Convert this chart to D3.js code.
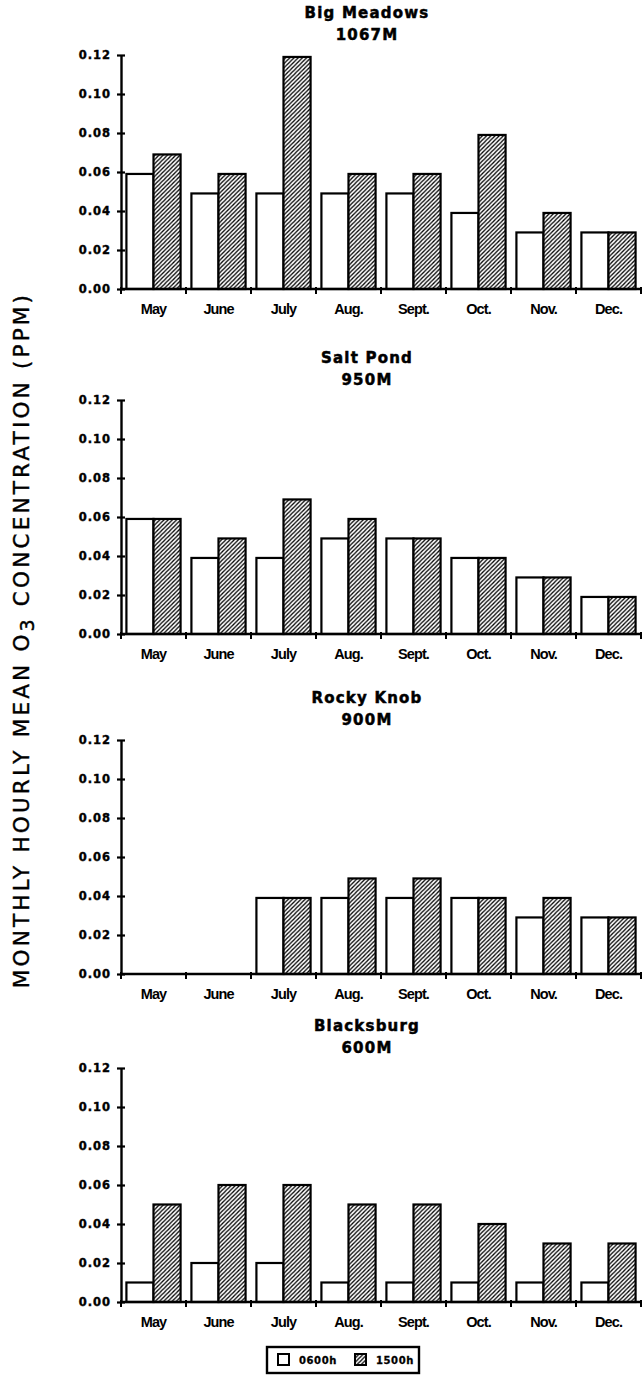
<!DOCTYPE html>
<html>
<head>
<meta charset="utf-8">
<script src="https://cdn.jsdelivr.net/npm/d3@7"></script>
<style>
  body { margin: 0; background: #fff; }
</style>
</head>
<body>
<div id="chart"></div>
<script>
const months = ['May', 'June', 'July', 'Aug.', 'Sept.', 'Oct.', 'Nov.', 'Dec.']
const series = ['0600h', '1500h']
const siteNames = ['Big Meadows', 'Salt Pond', 'Rocky Knob', 'Blacksburg']
const elevations = ['1067M', '950M', '900M', '600M']
const yTicks = [0, 0.02, 0.04, 0.06, 0.08, 0.10, 0.12]

// null = no measurement that month
const bigMeadows0600 = [0.059, 0.049, 0.049, 0.049, 0.049, 0.039, 0.029, 0.029]
const bigMeadows1500 = [0.069, 0.059, 0.119, 0.059, 0.059, 0.079, 0.039, 0.029]
const saltPond0600 = [0.059, 0.039, 0.039, 0.049, 0.049, 0.039, 0.029, 0.019]
const saltPond1500 = [0.059, 0.049, 0.069, 0.059, 0.049, 0.039, 0.029, 0.019]
const rockyKnob0600 = [null, null, 0.039, 0.039, 0.039, 0.039, 0.029, 0.029]
const rockyKnob1500 = [null, null, 0.039, 0.049, 0.049, 0.039, 0.039, 0.029]
const blacksburg0600 = [0.01, 0.02, 0.02, 0.01, 0.01, 0.01, 0.01, 0.01]
const blacksburg1500 = [0.05, 0.06, 0.06, 0.05, 0.05, 0.04, 0.03, 0.03]

const panels = [
  [bigMeadows0600, bigMeadows1500],
  [saltPond0600, saltPond1500],
  [rockyKnob0600, rockyKnob1500],
  [blacksburg0600, blacksburg1500]
]

const width = 644
const height = 1382
const axisLeftX = 121
const axisRightX = 641
const plotHeight = 234
// y position of the 0.12 line for each panel
const panelTops = [55, 400, 740, 1068]

const heavy = '"DejaVu Sans", sans-serif'
const plain = '"Liberation Sans", Arial, sans-serif'

const svg = d3
  .select('#chart')
  .append('svg')
  .attr('width', width)
  .attr('height', height)
  .style('display', 'block')

// diagonal hatching for the 1500h bars
const defs = svg.append('defs')
const hatch = defs
  .append('pattern')
  .attr('id', 'hatch')
  .attr('patternUnits', 'userSpaceOnUse')
  .attr('width', 4.2)
  .attr('height', 4.2)
hatch.append('rect').attr('width', 4.2).attr('height', 4.2).attr('fill', '#fff')
hatch
  .append('path')
  .attr('d', 'M-1,1 L1,-1 M0,4.2 L4.2,0 M3.2,5.2 L5.2,3.2')
  .attr('stroke', '#000')
  .attr('stroke-width', 1.3)

const xPositionScale = d3
  .scaleBand()
  .domain(months)
  .range([axisLeftX, axisRightX])

const seriesScale = d3
  .scaleBand()
  .domain(series)
  .range([0, xPositionScale.bandwidth()])
  .paddingOuter(0.2)

const fills = { '0600h': '#fff', '1500h': 'url(#hatch)' }

panels.forEach((values, i) => {
  const top = panelTops[i]
  const yPositionScale = d3
    .scaleLinear()
    .domain([0, 0.12])
    .range([top + plotHeight, top])
  const base = yPositionScale(0)

  const g = svg.append('g').attr('class', 'panel')

  // title
  const title = g
    .append('text')
    .attr('x', 367)
    .attr('y', top - 37)
    .attr('text-anchor', 'middle')
    .attr('font-family', heavy)
    .attr('font-weight', 'bold')
    .attr('font-size', 15)
    .attr('letter-spacing', 1.2)
    .attr('stroke', '#000')
    .attr('stroke-width', 0.5)
  title.append('tspan').attr('x', 367).text(siteNames[i])
  title.append('tspan').attr('x', 367).attr('dy', 22).text(elevations[i])

  // bars
  const rows = months.map((m, j) => ({
    month: m,
    values: series.map((s, k) => ({ month: m, key: s, value: values[k][j] }))
  }))

  g.selectAll('.month')
    .data(rows)
    .enter()
    .append('g')
    .attr('class', 'month')
    .attr('transform', d => 'translate(' + xPositionScale(d.month) + ',0)')
    .selectAll('rect')
    .data(d => d.values.filter(v => v.value !== null))
    .enter()
    .append('rect')
    .attr('x', d => seriesScale(d.key))
    .attr('width', seriesScale.bandwidth())
    .attr('y', d => yPositionScale(d.value))
    .attr('height', d => base - yPositionScale(d.value))
    .attr('fill', d => fills[d.key])
    .attr('stroke', '#000')
    .attr('stroke-width', 2.2)

  // y axis with ticks crossing the line
  const yAxis = d3
    .axisLeft(yPositionScale)
    .tickValues(yTicks)
    .tickFormat(d3.format('.2f'))
    .tickSizeInner(4)
    .tickSizeOuter(0)
    .tickPadding(6)

  const yg = g.append('g').attr('transform', 'translate(' + axisLeftX + ',0)').call(yAxis)
  yg.select('.domain').attr('stroke-width', 2.4)
  yg.selectAll('.tick line').attr('x1', 4).attr('stroke-width', 2.2)
  yg.selectAll('.tick text')
    .attr('font-family', heavy)
    .attr('font-weight', 'bold')
    .attr('font-size', 11.5)
    .attr('letter-spacing', 1)
    .attr('fill', '#000')
    .attr('stroke', '#000')
    .attr('stroke-width', 0.4)

  // x axis: baseline plus tick marks at month boundaries
  g.append('line')
    .attr('x1', axisLeftX)
    .attr('x2', axisRightX)
    .attr('y1', base)
    .attr('y2', base)
    .attr('stroke', '#000')
    .attr('stroke-width', 2.4)

  const edges = months.map(m => xPositionScale(m)).concat([xPositionScale.range()[1]])
  g.selectAll('.edge')
    .data(edges)
    .enter()
    .append('line')
    .attr('class', 'edge')
    .attr('x1', d => d)
    .attr('x2', d => d)
    .attr('y1', base - 2)
    .attr('y2', base + 5)
    .attr('stroke', '#000')
    .attr('stroke-width', 2)

  const xAxis = d3.axisBottom(xPositionScale).tickSize(0).tickPadding(15)
  const xg = g.append('g').attr('transform', 'translate(0,' + base + ')').call(xAxis)
  xg.select('.domain').remove()
  xg.selectAll('.tick text')
    .attr('font-family', plain)
    .attr('font-weight', 'bold')
    .attr('font-size', 14.5)
    .attr('letter-spacing', -0.9)
    .attr('fill', '#000')
})

// shared y axis title
const yTitle = svg
  .append('text')
  .attr('transform', 'translate(29,640) rotate(-90)')
  .attr('text-anchor', 'middle')
  .attr('font-family', heavy)
  .attr('font-size', 21.5)
  .attr('letter-spacing', 3.2)
  .attr('fill', '#000')
  .attr('stroke', '#000')
  .attr('stroke-width', 0.4)
yTitle.append('tspan').text('MONTHLY HOURLY MEAN O')
yTitle.append('tspan').attr('dy', 5).attr('font-size', 19).text('3')
yTitle.append('tspan').attr('dy', -5).text(' CONCENTRATION (PPM)')

// legend
const legend = svg.append('g').attr('transform', 'translate(267,1347)')
legend
  .append('rect')
  .attr('width', 152)
  .attr('height', 26)
  .attr('fill', '#fff')
  .attr('stroke', '#000')
  .attr('stroke-width', 2.4)

const legendItems = legend
  .selectAll('.item')
  .data(series)
  .enter()
  .append('g')
  .attr('class', 'item')
  .attr('transform', (d, i) => 'translate(' + (11 + i * 77) + ',7)')

legendItems
  .append('rect')
  .attr('width', 11)
  .attr('height', 11)
  .attr('fill', d => fills[d])
  .attr('stroke', '#000')
  .attr('stroke-width', 2)

legendItems
  .append('text')
  .attr('x', 21)
  .attr('y', 10)
  .attr('font-family', heavy)
  .attr('font-weight', 'bold')
  .attr('font-size', 10)
  .attr('letter-spacing', 0.6)
  .attr('stroke', '#000')
  .attr('stroke-width', 0.3)
  .text(d => d)
</script>
</body>
</html>
